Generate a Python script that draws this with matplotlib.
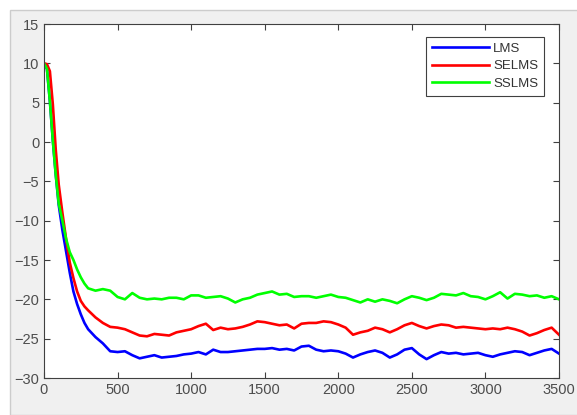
import numpy as np
import matplotlib.pyplot as plt
from matplotlib.patches import Rectangle

plt.rcParams['font.family'] = ['Liberation Sans', 'DejaVu Sans']

# eje de iteraciones: tramo inicial mas fino, luego cada 50
x_ini = [0, 20, 40, 60, 80, 100, 125, 150, 175, 200, 225, 250, 275, 300]
x_est = list(range(350, 3501, 50))
iteraciones = np.array(x_ini + x_est)

# curvas de aprendizaje (dB)
lms = [10, 9.3, 5.2, 0.2, -4.2, -8.0, -11.2, -13.9, -16.6, -19.0, -20.6, -21.9, -23.0, -23.8,
       -24.8, -25.6, -26.6, -26.7, -26.6, -27.1, -27.5, -27.3, -27.1, -27.4, -27.3, -27.2,
       -27.0, -26.9, -26.7, -27.0, -26.4, -26.7, -26.7, -26.6, -26.5, -26.4, -26.3, -26.3,
       -26.2, -26.4, -26.3, -26.5, -26.0, -25.9, -26.4, -26.6, -26.5, -26.6, -26.9, -27.4,
       -27.0, -26.7, -26.5, -26.8, -27.4, -27.0, -26.4, -26.2, -27.0, -27.6, -27.1, -26.7,
       -26.9, -26.8, -27.0, -26.9, -26.8, -27.1, -27.3, -27.0, -26.8, -26.6, -26.7, -27.1,
       -26.8, -26.5, -26.3, -26.9]
selms = [10, 9.9, 9.0, 4.8, -1.0, -5.4, -9.0, -12.3, -15.3, -17.3, -19.0, -20.2, -20.9, -21.4,
         -22.3, -23.0, -23.5, -23.6, -23.8, -24.2, -24.6, -24.7, -24.4, -24.5, -24.6, -24.2,
         -24.0, -23.8, -23.4, -23.1, -23.9, -23.6, -23.8, -23.7, -23.5, -23.2, -22.8, -22.9,
         -23.1, -23.3, -23.2, -23.7, -23.1, -23.0, -23.0, -22.8, -22.9, -23.2, -23.6, -24.5,
         -24.2, -24.0, -23.6, -23.8, -24.2, -23.8, -23.3, -23.0, -23.4, -23.7, -23.4, -23.2,
         -23.3, -23.6, -23.5, -23.6, -23.7, -23.8, -23.7, -23.8, -23.6, -23.8, -24.1, -24.6,
         -24.3, -23.9, -23.6, -24.5]
sslms = [10, 9.3, 5.2, 0.2, -4.2, -7.8, -10.0, -12.3, -14.0, -15.0, -16.2, -17.2, -18.0, -18.6,
         -18.9, -18.7, -18.9, -19.7, -20.0, -19.2, -19.8, -20.0, -19.9, -20.0, -19.8, -19.8,
         -20.0, -19.5, -19.5, -19.8, -19.7, -19.6, -19.9, -20.4, -20.0, -19.8, -19.4, -19.2,
         -19.0, -19.4, -19.3, -19.7, -19.6, -19.6, -19.8, -19.6, -19.4, -19.7, -19.8, -20.1,
         -20.4, -20.0, -20.3, -20.0, -20.2, -20.5, -20.0, -19.6, -19.8, -20.1, -19.8, -19.3,
         -19.4, -19.5, -19.2, -19.6, -19.7, -20.0, -19.6, -19.1, -19.9, -19.3, -19.4, -19.6,
         -19.5, -19.8, -19.6, -20.0]

fig = plt.figure(figsize=(5.77, 4.15), dpi=100, facecolor='white')
# fondo gris de la ventana
fig.patches.append(Rectangle((10 / 577, 0), 1, 1 - 10 / 415, transform=fig.transFigure,
                             facecolor='#f0f0f0', edgecolor='#cccccc', linewidth=1, zorder=-1))

ax = fig.add_axes([44 / 577, 1 - 378 / 415, 515 / 577, 354 / 415])
ax.set_facecolor('white')

ax.plot(iteraciones, lms, color='#0000ff', linewidth=1.9, label='LMS')
ax.plot(iteraciones, selms, color='#ff0000', linewidth=1.9, label='SELMS')
ax.plot(iteraciones, sslms, color='#00ff00', linewidth=1.9, label='SSLMS')

ax.set_xlim(0, 3500)
ax.set_ylim(-30, 15)
ax.set_xticks(np.arange(0, 3501, 500))
ax.set_yticks(np.arange(-30, 16, 5))
ax.tick_params(direction='in', top=True, right=True, length=4, width=0.8,
               colors='#404040', labelcolor='#4d4d4d', labelsize=10.5)
for s in ax.spines.values():
    s.set_color('#404040')
    s.set_linewidth(0.8)

leg = ax.legend(loc='upper right', bbox_to_anchor=(0.984, 0.983), fontsize=9.5,
                fancybox=False, framealpha=1, edgecolor='#404040',
                handlelength=4.3, handletextpad=0.3, borderpad=0.45, labelspacing=0.4)
leg.get_frame().set_linewidth(0.8)
for t in leg.get_texts():
    t.set_color('#333333')

fig.savefig('out.png', dpi=100)
